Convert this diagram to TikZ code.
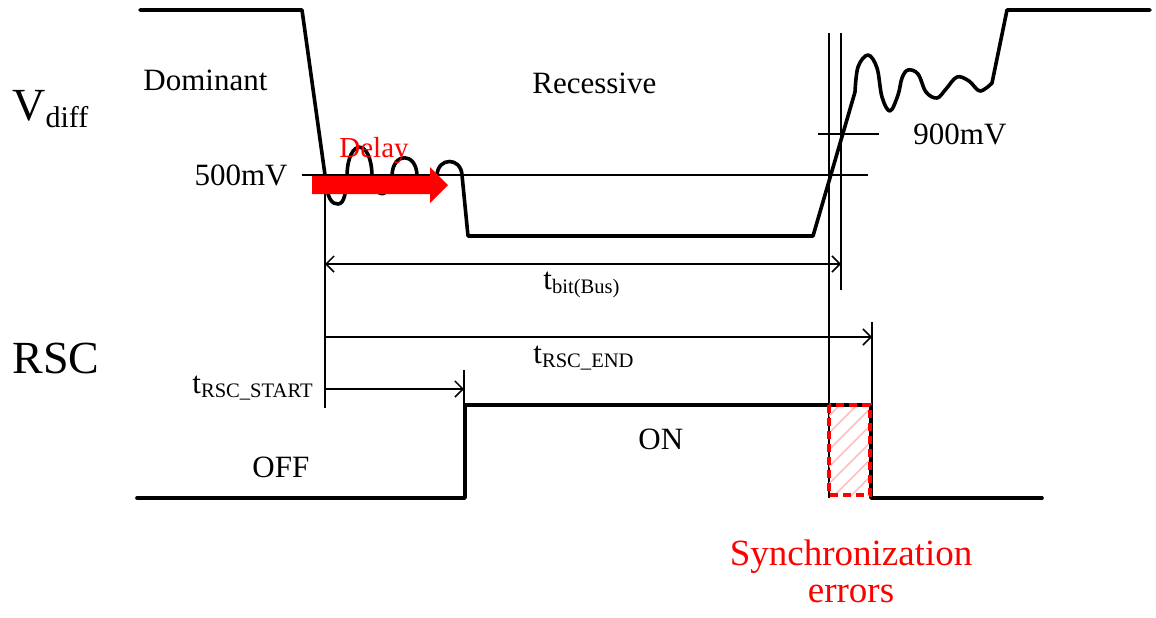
\documentclass[tikz,border=0pt]{standalone}
\usepackage{fontspec}
\setmainfont{Liberation Serif}
\usetikzlibrary{arrows.meta,patterns.meta}
\newcommand\tsubx[1]{t\raisebox{-2pt}{\fontsize{10.3}{12}\selectfont #1}}
\tikzset{
  wave/.style={line width=1.8pt, line join=round, line cap=round},
  thinline/.style={line width=0.75pt},
  barb/.tip={Straight Barb[length=4pt,width=8pt]},
  dimboth/.style={thinline, barb-barb},
  dimright/.style={thinline, -barb},
  lbl/.style={inner sep=0pt, font=\fontsize{15.5}{18}\selectfont},
  biglbl/.style={inner sep=0pt, font=\fontsize{23}{26}\selectfont},
  redlbl/.style={inner sep=0pt, text=red, font=\fontsize{18.5}{22}\selectfont},
}
\begin{document}
\begin{tikzpicture}[x=0.5pt,y=-0.5pt]
\useasboundingbox (0,0) rectangle (1156,617);

% ---------- labels ----------
\node[biglbl, anchor=base west] (vdiff) at (12,120) {V\raisebox{-3.5pt}{\fontsize{15}{18}\selectfont diff}};
\node[lbl, anchor=base west] (dom) at (143,90) {Dominant};
\node[lbl, anchor=base west] (rec) at (532,93) {Recessive};
\node[lbl, anchor=base east] (v500) at (288,185) {500mV};
\node[lbl, anchor=base west] (v900) at (913,144) {900mV};
\node[biglbl, anchor=base west] (rsc) at (12,373) {RSC};
\node[lbl, anchor=base west] (off) at (252,477) {OFF};
\node[lbl, anchor=base west] (on) at (638,449) {ON};
\node[lbl, anchor=base east] (tstart) at (313,393) {\tsubx{RSC\_START}};
\node[lbl, anchor=base west] (tbit) at (543,289) {\tsubx{bit(Bus)}};
\node[lbl, anchor=base west] (tend) at (533,363) {\tsubx{RSC\_END}};
\node[redlbl, anchor=base] (sync1) at (851,565) {Synchronization};
\node[redlbl, anchor=base] (sync2) at (851,602) {errors};

% ---------- reference lines ----------
\coordinate (l500a) at (302,175);
\coordinate (l500b) at (868,175);
\draw[thinline] (l500a) -- (l500b);
\coordinate (l900a) at (818,134);
\coordinate (l900b) at (879,134);
\draw[thinline] (l900a) -- (l900b);

\coordinate (vA1) at (325,175);  \coordinate (vA2) at (325,408);
\coordinate (vB1) at (829,33);   \coordinate (vB2) at (829,498);
\coordinate (vC1) at (841,33);   \coordinate (vC2) at (841,290);
\coordinate (vD1) at (464,370);  \coordinate (vD2) at (464,405);
\coordinate (vE1) at (872,322);  \coordinate (vE2) at (872,405);
\draw[thinline] (vA1) -- (vA2);
\draw[thinline] (vB1) -- (vB2);
\draw[thinline] (vC1) -- (vC2);
\draw[thinline] (vD1) -- (vD2);
\draw[thinline] (vE1) -- (vE2);

% ---------- dimension arrows ----------
\coordinate (bitL) at (325,264);  \coordinate (bitR) at (841,264);
\draw[dimboth] (bitL) -- (bitR);
\coordinate (endL) at (325,337);  \coordinate (endR) at (872,337);
\draw[dimright] (endL) -- (endR);
\coordinate (stL) at (325,389);   \coordinate (stR) at (464,389);
\draw[dimright] (stL) -- (stR);

% ---------- Vdiff waveform ----------
\draw[wave] (140,10) -- (302,10) -- (325,175)
  .. controls (327,200) and (332,204) .. (338,204)
  .. controls (345,204) and (346,190) .. (347,175)
  .. controls (348,138) and (371,138) .. (372,175)
  .. controls (374,200) and (390,200) .. (392,175)
  .. controls (393,152) and (416,152) .. (417,175)
  .. controls (419,196) and (435,196) .. (437,175)
  .. controls (438,157) and (461,157) .. (462,175)
  -- (468,236) -- (813,236) -- (855,92)
  plot[smooth, tension=0.6] coordinates {(855,92) (858,67) (868,55) (877,68) (882,97) (890,111) (898,95) (902,78) (908,70) (918,74) (926,92) (937,98) (946,89) (957,77) (969,81) (980,91) (992,83)}
  -- (1007,10) -- (1150,10);

% ---------- Delay arrow ----------
\fill[red] (312,176) -- (430,176) -- (430,167) -- (448,185) -- (430,203) -- (430,194) -- (312,194) -- cycle;
\node[inner sep=0pt, text=red, font=\fontsize{14.5}{17}\selectfont, anchor=base west] (delay) at (339,157) {Delay};

% ---------- RSC waveform ----------
\fill[pattern={Lines[angle=45,distance=6pt,line width=0.8pt]}, pattern color=red!25] (829,405) rectangle (870,495);
\draw[wave] (137,498) -- (465,498) -- (465,405) -- (871,405) -- (871,498) -- (1042,498);
\draw[red, line width=1.6pt, dash pattern=on 4pt off 2.5pt] (829,405) rectangle (870,495);
\end{tikzpicture}
\end{document}
